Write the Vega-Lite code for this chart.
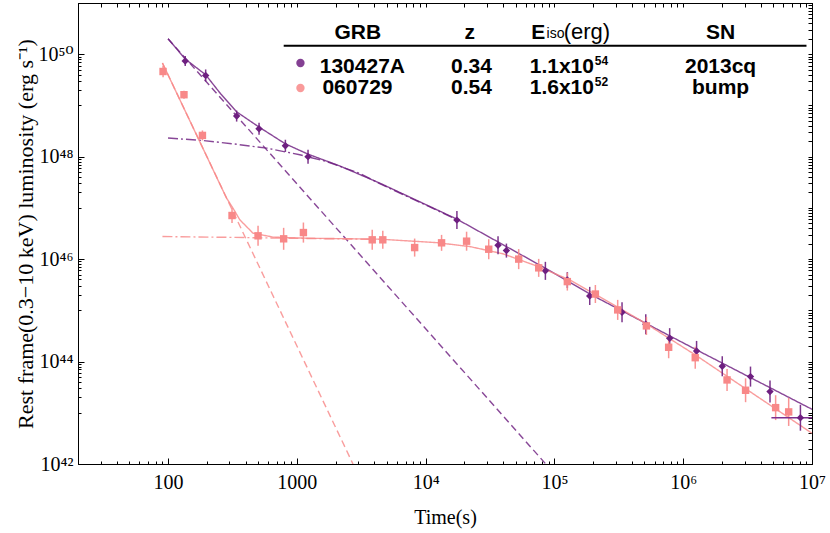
{
  "$schema": "https://vega.github.io/schema/vega-lite/v6.json",
  "width": 734,
  "height": 461,
  "autosize": {"type": "none"},
  "padding": {"left": 78, "top": 3, "right": 18, "bottom": 69},
  "config": {
    "view": {"stroke": "black", "strokeWidth": 1},
    "axis": {"domainColor": "black", "tickColor": "black", "labelColor": "black", "titleColor": "black", "grid": false, "tickWidth": 1}
  },
  "resolve": {
    "axis": {"x": "independent", "y": "independent"}
  },
  "datasets": {
    "pts": [
      {"series": "130427A", "t": 136, "L": 7.4e49, "lo": 5.9e49, "hi": 9.25e49},
      {"series": "130427A", "t": 196, "L": 3.85e49, "lo": 2.94e49, "hi": 5.04e49},
      {"series": "130427A", "t": 341, "L": 6.2e48, "lo": 4.84e48, "hi": 7.94e48},
      {"series": "130427A", "t": 509, "L": 3.5e48, "lo": 2.67e48, "hi": 4.59e48},
      {"series": "130427A", "t": 815, "L": 1.63e48, "lo": 1.24e48, "hi": 2.14e48},
      {"series": "130427A", "t": 1222, "L": 1.0e48, "lo": 7.3e47, "hi": 1.37e48},
      {"series": "130427A", "t": 17500, "L": 5.77e46, "lo": 3.85e46, "hi": 8.66e46},
      {"series": "130427A", "t": 36500, "L": 1.87e46, "lo": 1.25e46, "hi": 2.8e46},
      {"series": "130427A", "t": 42400, "L": 1.47e46, "lo": 1.07e46, "hi": 2.01e46},
      {"series": "130427A", "t": 85100, "L": 5.9e45, "lo": 3.93e45, "hi": 8.85e45},
      {"series": "130427A", "t": 126000, "L": 3.9e45, "lo": 2.73e45, "hi": 5.58e45},
      {"series": "130427A", "t": 188000, "L": 1.91e45, "lo": 1.27e45, "hi": 2.87e45},
      {"series": "130427A", "t": 335000, "L": 9.2e44, "lo": 5.86e44, "hi": 1.44e45},
      {"series": "130427A", "t": 512000, "L": 5.36e44, "lo": 3.41e44, "hi": 8.42e44},
      {"series": "130427A", "t": 785000, "L": 2.86e44, "lo": 1.82e44, "hi": 4.49e44},
      {"series": "130427A", "t": 1270000, "L": 1.61e44, "lo": 1.03e44, "hi": 2.53e44},
      {"series": "130427A", "t": 2010000, "L": 8.1e43, "lo": 5.16e43, "hi": 1.27e44},
      {"series": "130427A", "t": 3330000, "L": 5.08e43, "lo": 3.24e43, "hi": 7.98e43},
      {"series": "130427A", "t": 4720000, "L": 2.59e43, "lo": 1.58e43, "hi": 4.25e43},
      {"series": "130427A", "t": 8130000, "L": 8.0e42, "lo": 4.47e42, "hi": 1.43e43},
      {"series": "060729", "t": 91.5, "L": 4.6e49, "lo": 3.54e49, "hi": 5.98e49},
      {"series": "060729", "t": 133, "L": 1.62e49, "lo": 1.35e49, "hi": 1.94e49},
      {"series": "060729", "t": 185, "L": 2.6e48, "lo": 2.08e48, "hi": 3.25e48},
      {"series": "060729", "t": 314, "L": 7.1e46, "lo": 5.07e46, "hi": 9.94e46},
      {"series": "060729", "t": 500, "L": 2.85e46, "lo": 1.82e46, "hi": 4.47e46},
      {"series": "060729", "t": 790, "L": 2.49e46, "lo": 1.52e46, "hi": 4.08e46},
      {"series": "060729", "t": 1125, "L": 3.3e46, "lo": 2.1e46, "hi": 5.18e46},
      {"series": "060729", "t": 3850, "L": 2.38e46, "lo": 1.52e46, "hi": 3.74e46},
      {"series": "060729", "t": 4650, "L": 2.38e46, "lo": 1.59e46, "hi": 3.57e46},
      {"series": "060729", "t": 8220, "L": 1.68e46, "lo": 1.12e46, "hi": 2.52e46},
      {"series": "060729", "t": 13300, "L": 2.08e46, "lo": 1.45e46, "hi": 2.97e46},
      {"series": "060729", "t": 20800, "L": 2.24e46, "lo": 1.46e46, "hi": 3.43e46},
      {"series": "060729", "t": 30900, "L": 1.56e46, "lo": 9.94e45, "hi": 2.45e46},
      {"series": "060729", "t": 52800, "L": 1.0e46, "lo": 6.37e45, "hi": 1.57e46},
      {"series": "060729", "t": 75500, "L": 6.75e45, "lo": 4.5e45, "hi": 1.01e46},
      {"series": "060729", "t": 126000, "L": 3.64e45, "lo": 2.43e45, "hi": 5.46e45},
      {"series": "060729", "t": 208000, "L": 2.08e45, "lo": 1.39e45, "hi": 3.12e45},
      {"series": "060729", "t": 310000, "L": 1.02e45, "lo": 6.5e44, "hi": 1.6e45},
      {"series": "060729", "t": 518000, "L": 4.97e44, "lo": 3.31e44, "hi": 7.46e44},
      {"series": "060729", "t": 771000, "L": 1.9e44, "lo": 1.16e44, "hi": 3.12e44},
      {"series": "060729", "t": 1240000, "L": 1.19e44, "lo": 7.26e43, "hi": 1.95e44},
      {"series": "060729", "t": 2190000, "L": 4.38e43, "lo": 2.67e43, "hi": 7.18e43},
      {"series": "060729", "t": 3050000, "L": 2.75e43, "lo": 1.61e43, "hi": 4.7e43},
      {"series": "060729", "t": 5220000, "L": 1.26e43, "lo": 7.2e42, "hi": 2.2e43},
      {"series": "060729", "t": 6590000, "L": 1.04e43, "lo": 5.53e42, "hi": 1.96e43}
    ]
  },
  "layer": [
    {
      "data": {
        "values": [
          {"series": "130427A", "comp": "fit", "t": 100, "L": 2.01e50},
          {"series": "130427A", "comp": "fit", "t": 136, "L": 8.05e49},
          {"series": "130427A", "comp": "fit", "t": 196, "L": 3.97e49},
          {"series": "130427A", "comp": "fit", "t": 256, "L": 1.69e49},
          {"series": "130427A", "comp": "fit", "t": 341, "L": 7.5e48},
          {"series": "130427A", "comp": "fit", "t": 509, "L": 3.78e48},
          {"series": "130427A", "comp": "fit", "t": 815, "L": 1.78e48},
          {"series": "130427A", "comp": "fit", "t": 1222, "L": 1.12e48},
          {"series": "130427A", "comp": "fit", "t": 2150, "L": 6.6e47},
          {"series": "130427A", "comp": "fit", "t": 4400, "L": 3.05e47},
          {"series": "130427A", "comp": "fit", "t": 17500, "L": 6.03e46},
          {"series": "130427A", "comp": "fit", "t": 85100, "L": 6.65e45},
          {"series": "130427A", "comp": "fit", "t": 188000, "L": 2.09e45},
          {"series": "130427A", "comp": "fit", "t": 1270000, "L": 1.69e44},
          {"series": "130427A", "comp": "fit", "t": 10000000, "L": 1.17e43},
          {"series": "130427A", "comp": "steep", "t": 100, "L": 2.01e50},
          {"series": "130427A", "comp": "steep", "t": 85700, "L": 1e42},
          {"series": "130427A", "comp": "plateau", "t": 100, "L": 2.31e48},
          {"series": "130427A", "comp": "plateau", "t": 187, "L": 2.07e48},
          {"series": "130427A", "comp": "plateau", "t": 320, "L": 1.78e48},
          {"series": "130427A", "comp": "plateau", "t": 581, "L": 1.47e48},
          {"series": "130427A", "comp": "plateau", "t": 1054, "L": 1.09e48},
          {"series": "130427A", "comp": "plateau", "t": 1698, "L": 8.05e47},
          {"series": "130427A", "comp": "plateau", "t": 3076, "L": 4.73e47},
          {"series": "130427A", "comp": "plateau", "t": 4400, "L": 2.98e47},
          {"series": "130427A", "comp": "plateau", "t": 17500, "L": 5.9e46},
          {"series": "060729", "comp": "fit", "t": 90.5, "L": 6.73e49},
          {"series": "060729", "comp": "fit", "t": 284, "L": 1.57e47},
          {"series": "060729", "comp": "fit", "t": 320, "L": 9.8e46},
          {"series": "060729", "comp": "fit", "t": 361, "L": 5.85e46},
          {"series": "060729", "comp": "fit", "t": 457, "L": 3.21e46},
          {"series": "060729", "comp": "fit", "t": 653, "L": 2.69e46},
          {"series": "060729", "comp": "fit", "t": 1188, "L": 2.56e46},
          {"series": "060729", "comp": "fit", "t": 4400, "L": 2.45e46},
          {"series": "060729", "comp": "fit", "t": 12100, "L": 2.1e46},
          {"series": "060729", "comp": "fit", "t": 22000, "L": 1.76e46},
          {"series": "060729", "comp": "fit", "t": 39900, "L": 1.27e46},
          {"series": "060729", "comp": "fit", "t": 72400, "L": 7.38e45},
          {"series": "060729", "comp": "fit", "t": 131000, "L": 3.94e45},
          {"series": "060729", "comp": "fit", "t": 269000, "L": 1.42e45},
          {"series": "060729", "comp": "fit", "t": 518000, "L": 5.43e44},
          {"series": "060729", "comp": "fit", "t": 1240000, "L": 1.35e44},
          {"series": "060729", "comp": "fit", "t": 10000000, "L": 3.98e42},
          {"series": "060729", "comp": "steep", "t": 90.5, "L": 6.73e49},
          {"series": "060729", "comp": "steep", "t": 2730, "L": 1e42},
          {"series": "060729", "comp": "plateau", "t": 90.5, "L": 2.76e46},
          {"series": "060729", "comp": "plateau", "t": 300, "L": 2.66e46},
          {"series": "060729", "comp": "plateau", "t": 1188, "L": 2.53e46},
          {"series": "060729", "comp": "plateau", "t": 4400, "L": 2.43e46}
        ]
      },
      "mark": {"type": "line", "clip": true, "strokeWidth": 1.4, "opacity": 0.82},
      "encoding": {
        "x": {
          "field": "t", "type": "quantitative",
          "scale": {"type": "log", "domain": [20, 10000000], "nice": false},
          "axis": {
            "orient": "bottom",
            "values": [30, 40, 50, 60, 70, 80, 90, 100, 200, 300, 400, 500, 600, 700, 800, 900, 1000, 2000, 3000, 4000, 5000, 6000, 7000, 8000, 9000, 10000, 20000, 30000, 40000, 50000, 60000, 70000, 80000, 90000, 100000, 200000, 300000, 400000, 500000, 600000, 700000, 800000, 900000, 1000000, 2000000, 3000000, 4000000, 5000000, 6000000, 7000000, 8000000, 9000000, 10000000],
            "labelExpr": "datum.value==100?'100':datum.value==1000?'1000':datum.value==10000?'10⁴':datum.value==100000?'10⁵':datum.value==1000000?'10⁶':datum.value==10000000?'10⁷':''",
            "tickSize": {"condition": {"test": "datum.value==100||datum.value==1000||datum.value==10000||datum.value==100000||datum.value==1000000||datum.value==10000000", "value": -6}, "value": -3},
            "labelFont": "Liberation Serif, DejaVu Serif", "labelFontSize": 20, "labelPadding": 14,
            "labelFlush": false, "labelOverlap": false, "labelBound": false,
            "title": "Time(s)", "titleFont": "Liberation Serif", "titleFontSize": 20, "titleFontWeight": "normal", "titlePadding": 12
          }
        },
        "y": {
          "field": "L", "type": "quantitative",
          "scale": {"type": "log", "domain": [1e42, 1e51], "nice": false},
          "axis": {
            "orient": "left",
            "values": [1e42, 1e43, 2e43, 3e43, 4e43, 5e43, 6e43, 7e43, 8e43, 9e43, 1e44, 1e45, 2e45, 3e45, 4e45, 5e45, 6e45, 7e45, 8e45, 9e45, 1e46, 1e47, 2e47, 3e47, 4e47, 5e47, 6e47, 7e47, 8e47, 9e47, 1e48, 1e49, 2e49, 3e49, 4e49, 5e49, 6e49, 7e49, 8e49, 9e49, 1e50],
            "labelExpr": "datum.value==1e42?'10⁴²':datum.value==1e44?'10⁴⁴':datum.value==1e46?'10⁴⁶':datum.value==1e48?'10⁴⁸':datum.value==1e50?'10⁵⁰':''",
            "tickSize": {"condition": {"test": "datum.value==1e42||datum.value==1e44||datum.value==1e46||datum.value==1e48||datum.value==1e50", "value": -6}, "value": -3},
            "labelFont": "Liberation Serif, DejaVu Serif", "labelFontSize": 20, "labelPadding": 11,
            "labelOverlap": false, "labelBound": false, "labelFlush": false,
            "title": "Rest frame(0.3−10 keV) luminosity (erg s⁻¹)", "titleFont": "Liberation Serif", "titleFontSize": 22, "titleFontWeight": "normal", "titlePadding": 1
          }
        },
        "color": {"field": "series", "type": "nominal", "scale": {"domain": ["130427A", "060729"], "range": ["#6e1f80", "#f88888"]}, "legend": null},
        "strokeDash": {"field": "comp", "type": "nominal", "scale": {"domain": ["fit", "steep", "plateau"], "range": [[1, 0], [7, 4], [10, 3, 2, 3]]}, "legend": null}
      }
    },
    {
      "data": {"values": [{"t": 100, "L": 1e46}, {"t": 100000, "L": 1e44}]},
      "mark": {"type": "point", "opacity": 0},
      "encoding": {
        "x": {
          "field": "t", "type": "quantitative",
          "scale": {"type": "log", "domain": [20, 10000000], "nice": false},
          "axis": {"orient": "top", "tickSize": -4, "labels": false, "title": null}
        },
        "y": {
          "field": "L", "type": "quantitative",
          "scale": {"type": "log", "domain": [1e42, 1e51], "nice": false},
          "axis": {"orient": "right", "tickSize": -4, "labels": false, "title": null}
        }
      }
    },
    {
      "data": {"name": "pts"},
      "mark": {"type": "rule", "strokeWidth": 1.5, "clip": true, "opacity": 0.9},
      "encoding": {
        "x": {"field": "t", "type": "quantitative", "scale": {"type": "log", "domain": [20, 10000000], "nice": false}, "axis": null},
        "y": {"field": "lo", "type": "quantitative", "scale": {"type": "log", "domain": [1e42, 1e51], "nice": false}, "axis": null},
        "y2": {"field": "hi"},
        "color": {"field": "series", "type": "nominal", "scale": {"domain": ["130427A", "060729"], "range": ["#6e1f80", "#f88888"]}, "legend": null}
      }
    },
    {
      "data": {"values": [{"t2": 4840000, "t3": 10000000, "L": 8.0e42}]},
      "mark": {"type": "rule", "strokeWidth": 1.5, "color": "#7d2f8e", "clip": true},
      "encoding": {
        "x": {"field": "t2", "type": "quantitative", "scale": {"type": "log", "domain": [20, 10000000], "nice": false}, "axis": null},
        "x2": {"field": "t3"},
        "y": {"field": "L", "type": "quantitative", "scale": {"type": "log", "domain": [1e42, 1e51], "nice": false}, "axis": null}
      }
    },
    {
      "data": {"name": "pts"},
      "mark": {"type": "point", "filled": true, "opacity": 1, "size": 55},
      "encoding": {
        "x": {"field": "t", "type": "quantitative", "scale": {"type": "log", "domain": [20, 10000000], "nice": false}, "axis": null},
        "y": {"field": "L", "type": "quantitative", "scale": {"type": "log", "domain": [1e42, 1e51], "nice": false}, "axis": null},
        "shape": {"field": "series", "type": "nominal", "scale": {"domain": ["130427A", "060729"], "range": ["diamond", "square"]}, "legend": null},
        "color": {"field": "series", "type": "nominal", "scale": {"domain": ["130427A", "060729"], "range": ["#6e1f80", "#f88888"]}, "legend": null}
      }
    },
    {
      "data": {"values": [{"t1": 791, "t2": 9060000, "L": 1.47e50}]},
      "mark": {"type": "rule", "strokeWidth": 2, "color": "black"},
      "encoding": {
        "x": {"field": "t1", "type": "quantitative", "scale": {"type": "log", "domain": [20, 10000000], "nice": false}, "axis": null},
        "x2": {"field": "t2"},
        "y": {"field": "L", "type": "quantitative", "scale": {"type": "log", "domain": [1e42, 1e51], "nice": false}, "axis": null}
      }
    },
    {
      "data": {"values": [{"series": "130427A", "t": 1067, "L": 6.73e49}, {"series": "060729", "t": 1067, "L": 2.19e49}]},
      "mark": {"type": "circle", "size": 70, "opacity": 0.85},
      "encoding": {
        "x": {"field": "t", "type": "quantitative", "scale": {"type": "log", "domain": [20, 10000000], "nice": false}, "axis": null},
        "y": {"field": "L", "type": "quantitative", "scale": {"type": "log", "domain": [1e42, 1e51], "nice": false}, "axis": null},
        "color": {"field": "series", "type": "nominal", "scale": {"domain": ["130427A", "060729"], "range": ["#6e1f80", "#f88888"]}, "legend": null}
      }
    },
    {
      "data": {"values": [
        {"label": "GRB", "t": 2970, "L": 1.96e50},
        {"label": "z", "t": 22000, "L": 1.96e50},
        {"label": "SN", "t": 1950000, "L": 1.96e50},
        {"label": "0.34", "t": 22700, "L": 4.29e49},
        {"label": "0.54", "t": 22700, "L": 1.69e49},
        {"label": "2013cq", "t": 1950000, "L": 4.29e49},
        {"label": "bump", "t": 1950000, "L": 1.69e49}
      ]},
      "mark": {"type": "text", "align": "center", "baseline": "alphabetic", "font": "Liberation Sans", "fontWeight": "bold", "fontSize": 21, "color": "black"},
      "encoding": {
        "x": {"field": "t", "type": "quantitative", "scale": {"type": "log", "domain": [20, 10000000], "nice": false}, "axis": null},
        "y": {"field": "L", "type": "quantitative", "scale": {"type": "log", "domain": [1e42, 1e51], "nice": false}, "axis": null},
        "text": {"field": "label"}
      }
    },
    {
      "data": {"values": [
        {"label": "E", "t": 66200, "L": 1.96e50},
        {"label": "130427A", "t": 1507, "L": 4.29e49},
        {"label": "060729", "t": 1581, "L": 1.69e49},
        {"label": "1.1x10", "t": 64300, "L": 4.29e49},
        {"label": "1.6x10", "t": 64300, "L": 1.69e49}
      ]},
      "mark": {"type": "text", "align": "left", "baseline": "alphabetic", "font": "Liberation Sans", "fontWeight": "bold", "fontSize": 21, "color": "black"},
      "encoding": {
        "x": {"field": "t", "type": "quantitative", "scale": {"type": "log", "domain": [20, 10000000], "nice": false}, "axis": null},
        "y": {"field": "L", "type": "quantitative", "scale": {"type": "log", "domain": [1e42, 1e51], "nice": false}, "axis": null},
        "text": {"field": "label"}
      }
    },
    {
      "data": {"values": [
        {"label": "54", "t": 206000, "L": 6.24e49},
        {"label": "52", "t": 206000, "L": 2.42e49}
      ]},
      "mark": {"type": "text", "align": "left", "baseline": "alphabetic", "font": "Liberation Sans", "fontWeight": "bold", "fontSize": 12, "color": "black"},
      "encoding": {
        "x": {"field": "t", "type": "quantitative", "scale": {"type": "log", "domain": [20, 10000000], "nice": false}, "axis": null},
        "y": {"field": "L", "type": "quantitative", "scale": {"type": "log", "domain": [1e42, 1e51], "nice": false}, "axis": null},
        "text": {"field": "label"}
      }
    },
    {
      "data": {"values": [{"label": "iso", "t": 87000, "L": 2.1e50}]},
      "mark": {"type": "text", "align": "left", "baseline": "alphabetic", "font": "Liberation Sans", "fontSize": 14, "color": "black"},
      "encoding": {
        "x": {"field": "t", "type": "quantitative", "scale": {"type": "log", "domain": [20, 10000000], "nice": false}, "axis": null},
        "y": {"field": "L", "type": "quantitative", "scale": {"type": "log", "domain": [1e42, 1e51], "nice": false}, "axis": null},
        "text": {"field": "label"}
      }
    },
    {
      "data": {"values": [{"label": "(erg)", "t": 118000, "L": 1.96e50}]},
      "mark": {"type": "text", "align": "left", "baseline": "alphabetic", "font": "Liberation Sans", "fontSize": 22, "color": "black"},
      "encoding": {
        "x": {"field": "t", "type": "quantitative", "scale": {"type": "log", "domain": [20, 10000000], "nice": false}, "axis": null},
        "y": {"field": "L", "type": "quantitative", "scale": {"type": "log", "domain": [1e42, 1e51], "nice": false}, "axis": null},
        "text": {"field": "label"}
      }
    }
  ]
}
